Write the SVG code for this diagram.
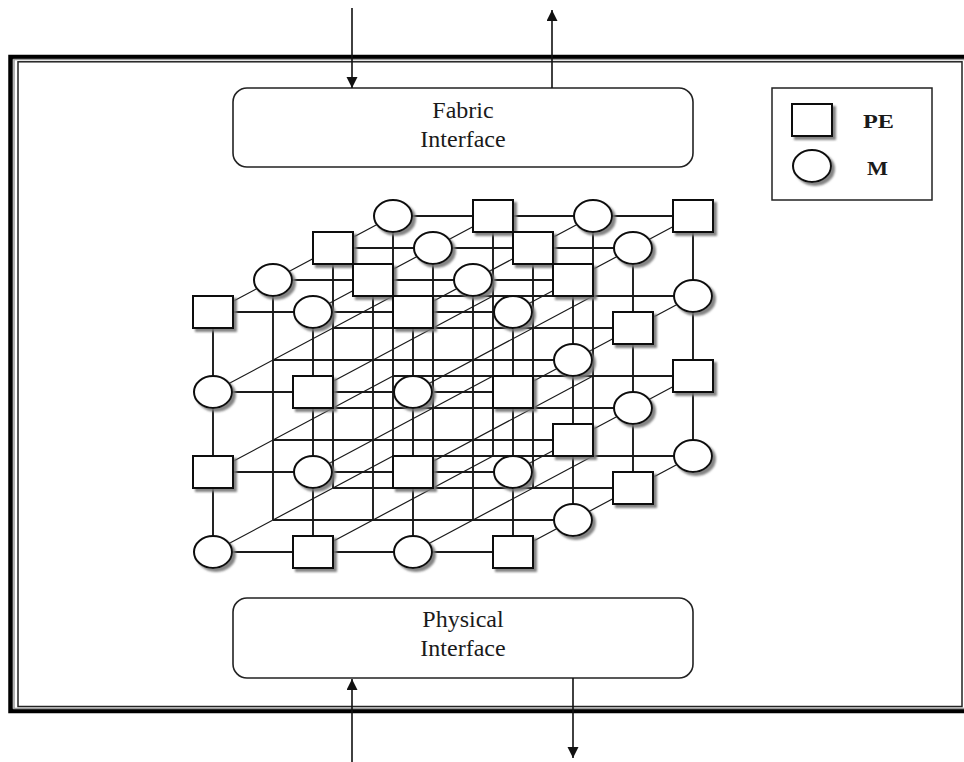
<svg xmlns="http://www.w3.org/2000/svg" width="964" height="762" viewBox="0 0 964 762">
  <style>
    .frame-outer { fill: none; stroke: #000; stroke-width: 4.5; }
    .frame-mid { fill: none; stroke: #9a9a9a; stroke-width: 1.5; }
    .frame-inner { fill: none; stroke: #222; stroke-width: 1.5; }
    .iface { fill: #fff; stroke: #222; stroke-width: 1.6; }
    .label { font-family: "Liberation Serif", "Times New Roman", serif; font-size: 24px; fill: #1a1a1a; text-anchor: middle; }
    .legend-text { font-family: "Liberation Serif", "Times New Roman", serif; font-size: 19px; font-weight: bold; fill: #1a1a1a; }
    .ortho { fill: none; stroke: #1a1a1a; stroke-width: 1.9; }
    .depth { fill: none; stroke: #1a1a1a; stroke-width: 1.2; }
    .arrow { fill: none; stroke: #111; stroke-width: 1.6; marker-end: url(#head); }
    .pe { fill: #fff; stroke: #111; stroke-width: 2; filter: url(#shadow); }
    .mem { fill: #fff; stroke: #111; stroke-width: 2; filter: url(#shadow); }
  </style>
  <defs>
    <marker id="head" markerUnits="userSpaceOnUse" markerWidth="11" markerHeight="12" refX="11" refY="5.5" orient="auto">
      <path d="M0,0 L11,5.5 L0,11 z" fill="#111"/>
    </marker>
    <filter id="shadow" x="-20%" y="-20%" width="150%" height="150%">
      <feDropShadow dx="3" dy="3" stdDeviation="1.2" flood-color="#777" flood-opacity="0.9"/>
    </filter>
    <rect id="sq" x="-20" y="-16" width="40" height="32"/>
    <ellipse id="ci" cx="0" cy="0" rx="19" ry="16"/>
  </defs>

  <rect width="964" height="762" fill="#fff"/>

  <!-- enclosing board outline (double border) -->
  <g id="board">
    <rect class="frame-outer" x="10.5" y="57" width="960" height="654"/>
    <rect class="frame-mid" x="14" y="59.5" width="952" height="649"/>
    <rect class="frame-inner" x="18" y="61.8" width="944" height="644.7"/>
  </g>

  <!-- interface blocks -->
  <g id="fabric-interface">
    <rect class="iface" x="233" y="88" width="460" height="79" rx="14"/>
    <text class="label" x="463" y="118">Fabric</text>
    <text class="label" x="463" y="147">Interface</text>
  </g>
  <g id="physical-interface">
    <rect class="iface" x="233" y="598" width="460" height="80" rx="14"/>
    <text class="label" x="463" y="627">Physical</text>
    <text class="label" x="463" y="656">Interface</text>
  </g>

  <!-- legend -->
  <g id="legend">
    <rect x="772" y="88" width="160" height="112" fill="#fff" stroke="#222" stroke-width="1.5"/>
    <use href="#sq" class="pe" x="812" y="120"/>
    <use href="#ci" class="mem" x="812" y="166"/>
    <text class="legend-text" x="863" y="128" textLength="31" lengthAdjust="spacingAndGlyphs">PE</text>
    <text class="legend-text" x="867" y="175" textLength="21" lengthAdjust="spacingAndGlyphs">M</text>
  </g>

  <!-- connectors: I/O arrows and the 4x4x4 lattice links -->
  <g id="connectors">
    <line class="arrow" x1="352" y1="8" x2="352" y2="88"/>
    <line class="arrow" x1="552" y1="88" x2="552" y2="10"/>
    <line class="arrow" x1="352" y1="762" x2="352" y2="679"/>
    <line class="arrow" x1="573" y1="678" x2="573" y2="758"/>

    <!-- links along the columns (horizontal) -->
    <path class="ortho" d="M213 312H513M213 392H513M213 472H513M213 552H513
      M273 280H573M273 360H573M273 440H573M273 520H573
      M333 248H633M333 328H633M333 408H633M333 488H633
      M393 216H693M393 296H693M393 376H693M393 456H693"/>
    <!-- links along the rows (vertical) -->
    <path class="ortho" d="M213 312V552M313 312V552M413 312V552M513 312V552
      M273 280V520M373 280V520M473 280V520M573 280V520
      M333 248V488M433 248V488M533 248V488M633 248V488
      M393 216V456M493 216V456M593 216V456M693 216V456"/>
    <!-- links along the depth (diagonal) -->
    <path class="depth" d="M213 312l180 -96M313 312l180 -96M413 312l180 -96M513 312l180 -96
      M213 392l180 -96M313 392l180 -96M413 392l180 -96M513 392l180 -96
      M213 472l180 -96M313 472l180 -96M413 472l180 -96M513 472l180 -96
      M213 552l180 -96M313 552l180 -96M413 552l180 -96M513 552l180 -96"/>
  </g>

  <!-- visible lattice nodes, drawn back layer first -->
  <g id="layer3">
    <use id="n030" href="#ci" class="mem" x="393" y="216"/>
    <use id="n130" href="#sq" class="pe" x="493" y="216"/>
    <use id="n230" href="#ci" class="mem" x="593" y="216"/>
    <use id="n330" href="#sq" class="pe" x="693" y="216"/>
    <use id="n331" href="#ci" class="mem" x="693" y="296"/>
    <use id="n332" href="#sq" class="pe" x="693" y="376"/>
    <use id="n333" href="#ci" class="mem" x="693" y="456"/>
  </g>
  <g id="layer2">
    <use id="m030" href="#sq" class="pe" x="333" y="248"/>
    <use id="m130" href="#ci" class="mem" x="433" y="248"/>
    <use id="m230" href="#sq" class="pe" x="533" y="248"/>
    <use id="m330" href="#ci" class="mem" x="633" y="248"/>
    <use id="m331" href="#sq" class="pe" x="633" y="328"/>
    <use id="m332" href="#ci" class="mem" x="633" y="408"/>
    <use id="m333" href="#sq" class="pe" x="633" y="488"/>
  </g>
  <g id="layer1">
    <use id="k030" href="#ci" class="mem" x="273" y="280"/>
    <use id="k130" href="#sq" class="pe" x="373" y="280"/>
    <use id="k230" href="#ci" class="mem" x="473" y="280"/>
    <use id="k330" href="#sq" class="pe" x="573" y="280"/>
    <use id="k331" href="#ci" class="mem" x="573" y="360"/>
    <use id="k332" href="#sq" class="pe" x="573" y="440"/>
    <use id="k333" href="#ci" class="mem" x="573" y="520"/>
  </g>
  <g id="layer0">
    <use id="f00" href="#sq" class="pe" x="213" y="312"/>
    <use id="f10" href="#ci" class="mem" x="313" y="312"/>
    <use id="f20" href="#sq" class="pe" x="413" y="312"/>
    <use id="f30" href="#ci" class="mem" x="513" y="312"/>
    <use id="f01" href="#ci" class="mem" x="213" y="392"/>
    <use id="f11" href="#sq" class="pe" x="313" y="392"/>
    <use id="f21" href="#ci" class="mem" x="413" y="392"/>
    <use id="f31" href="#sq" class="pe" x="513" y="392"/>
    <use id="f02" href="#sq" class="pe" x="213" y="472"/>
    <use id="f12" href="#ci" class="mem" x="313" y="472"/>
    <use id="f22" href="#sq" class="pe" x="413" y="472"/>
    <use id="f32" href="#ci" class="mem" x="513" y="472"/>
    <use id="f03" href="#ci" class="mem" x="213" y="552"/>
    <use id="f13" href="#sq" class="pe" x="313" y="552"/>
    <use id="f23" href="#ci" class="mem" x="413" y="552"/>
    <use id="f33" href="#sq" class="pe" x="513" y="552"/>
  </g>
</svg>
